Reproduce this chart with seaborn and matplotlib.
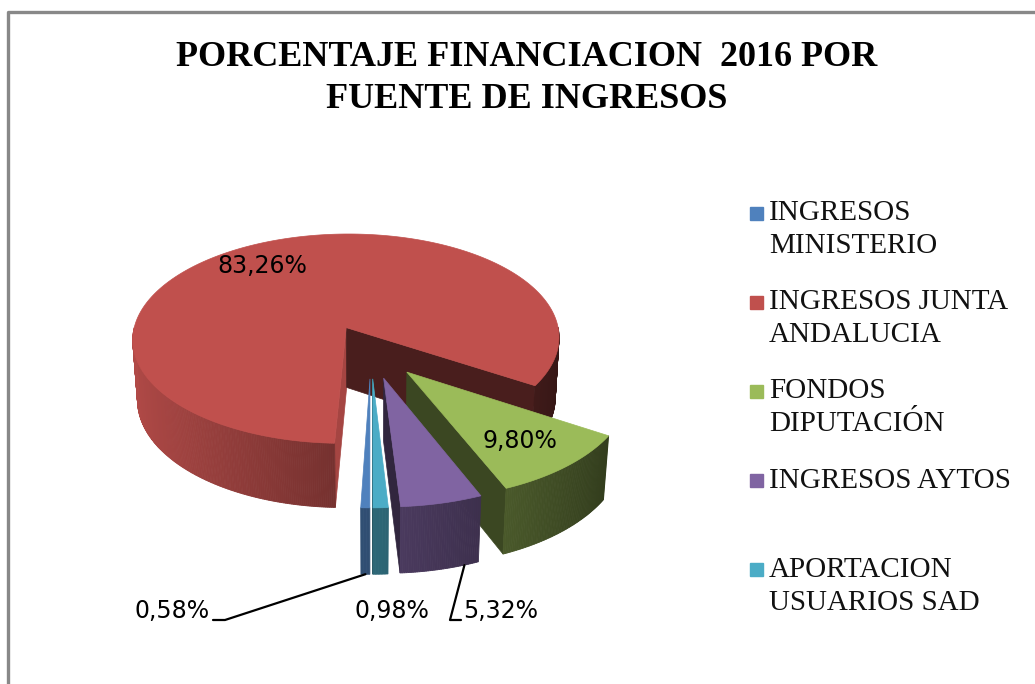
# Porcentaje de financiación 2016 por fuente de ingresos - tarta 3D con porciones separadas
import numpy as np
import matplotlib
matplotlib.use("Agg")
import matplotlib.pyplot as plt
import seaborn as sns
from matplotlib.colors import to_rgb

# ============================
# Datos
# ============================
fuentes = ["INGRESOS\nMINISTERIO", "INGRESOS JUNTA\nANDALUCIA", "FONDOS\nDIPUTACIÓN",
           "INGRESOS AYTOS", "APORTACION\nUSUARIOS SAD"]
porcentajes = [0.58, 83.26, 9.80, 5.32, 0.98]
colores = ["#4F81BD", "#C0504D", "#9BBB59", "#8064A2", "#4BACC6"]
titulo = "PORCENTAJE FINANCIACION  2016 POR\nFUENTE DE INGRESOS"

# ============================
# Estilo
# ============================
sns.set_style("white")
paleta = sns.color_palette(colores)

fig = plt.figure(figsize=(10.35, 6.84), dpi=100)
ax = fig.add_axes([0, 0, 1, 1])
ax.set_xlim(0, 1035)
ax.set_ylim(684, 0)
ax.axis("off")

# geometría de la tarta (en píxeles)
CX, CY, R = 371, 351, 217
ANG = np.radians(30)
GROSOR = 0.33
DIST = 8.0
EXPLOTA = 0.25
INICIO = 180.0


def proyecta(u, v, h):
    y_up = v * np.sin(ANG) + h * np.cos(ANG)
    z = v * np.cos(ANG) - h * np.sin(ANG)
    f = DIST / (DIST + z)
    return CX + R * u * f, CY - R * y_up * f


def punto(phi, r, h, off):
    p = np.radians(phi)
    return proyecta(off[0] + r * np.sin(p), off[1] + r * np.cos(p), h)


def oscurece(c, k):
    return tuple(np.clip(np.array(to_rgb(c)) * k, 0, 1))


valores = np.array(porcentajes)
limites = INICIO + 360 * np.concatenate([[0], np.cumsum(valores)]) / valores.sum()

porciones = []
for i, c in enumerate(paleta):
    a, b = limites[i], limites[i + 1]
    m = (a + b) / 2
    off = (EXPLOTA * np.sin(np.radians(m)), EXPLOTA * np.cos(np.radians(m)))
    porciones.append((i, a, b, m, off, c))

# dibujar del fondo hacia delante
porciones.sort(key=lambda p: -p[4][1])

for i, a, b, m, off, c in porciones:
    # caras de corte (la inicial más clara, la final muy oscura)
    for phi, visible, k in [(a, np.sin(np.radians(a)) < 0, 0.86),
                            (b, np.sin(np.radians(b)) > 0, 0.38)]:
        if visible:
            pts = [punto(phi, 0, 0, off), punto(phi, 1, 0, off),
                   punto(phi, 1, -GROSOR, off), punto(phi, 0, -GROSOR, off)]
            ax.fill(*zip(*pts), color=oscurece(c, k), lw=0.5, ec=oscurece(c, k))
    # pared exterior con degradado
    phis = np.linspace(a, b, max(int(b - a) * 2, 2))
    for p0, p1 in zip(phis[:-1], phis[1:]):
        pm = np.radians((p0 + p1) / 2)
        if np.cos(pm) >= 0:
            continue
        k = 0.60 - 0.32 * np.sin(pm)
        pts = [punto(p0, 1, 0, off), punto(p1, 1, 0, off),
               punto(p1, 1, -GROSOR, off), punto(p0, 1, -GROSOR, off)]
        ax.fill(*zip(*pts), color=oscurece(c, k), lw=0.6, ec=oscurece(c, k))
    # cara superior
    arco = [punto(p, 1, 0, off) for p in np.linspace(a, b, max(int(b - a) * 2, 2))]
    pts = [punto(a, 0, 0, off)] + arco
    ax.fill(*zip(*pts), color=c, lw=0.5, ec=c)

# ============================
# Etiquetas de datos
# ============================
def etiqueta(v):
    return f"{v:.2f}".replace(".", ",") + "%"

info = {p[0]: p for p in porciones}
fuente_num = dict(family="DejaVu Sans", fontsize=17, color="black")

# dentro: junta y diputación
for i, r, dx in [(1, 0.72, -18), (2, 0.75, -4)]:
    _, a, b, m, off, c = info[i]
    x, y = punto(m, r, 0, off)
    ax.text(x + dx, y, etiqueta(porcentajes[i]), ha="center", va="center", **fuente_num)

# fuera con línea guía
Y_TXT = 611
_, a, b, m, off, c = info[0]
x0, y0 = punto(m, 1, -GROSOR, off)
ax.plot([x0, 225, 213], [y0, 620, 620], color="black", lw=1.6)
ax.text(210, Y_TXT, etiqueta(porcentajes[0]), ha="right", va="center", **fuente_num)

ax.text(392, Y_TXT, etiqueta(porcentajes[4]), ha="center", va="center", **fuente_num)

_, a, b, m, off, c = info[3]
x0, y0 = punto(m - 6, 1, -GROSOR, off)
ax.plot([x0, 450, 461], [y0, 620, 620], color="black", lw=1.6)
ax.text(463, Y_TXT, etiqueta(porcentajes[3]), ha="left", va="center", **fuente_num)

# ============================
# Título
# ============================
for j, linea in enumerate(titulo.split("\n")):
    ax.text(527, 58 + 42 * j, linea, ha="center", va="center", color="black",
            family="Liberation Serif", fontweight="bold", fontsize=26)

# ============================
# Leyenda
# ============================
for i, (nombre, c) in enumerate(zip(fuentes, paleta)):
    y = 213 + 89.2 * i
    ax.add_patch(plt.Rectangle((750, y - 6.5), 13, 13, color=c))
    for j, linea in enumerate(nombre.split("\n")):
        ax.text(769, y + 33 * j, linea, ha="left", va="center",
                family="Liberation Serif", fontsize=21, color="#111111")

# borde del gráfico
ax.plot([7.5, 7.5, 1035], [684, 11.5, 11.5], color="#888888", lw=2.4, solid_capstyle="butt")

fig.savefig("out.png", dpi=100)
